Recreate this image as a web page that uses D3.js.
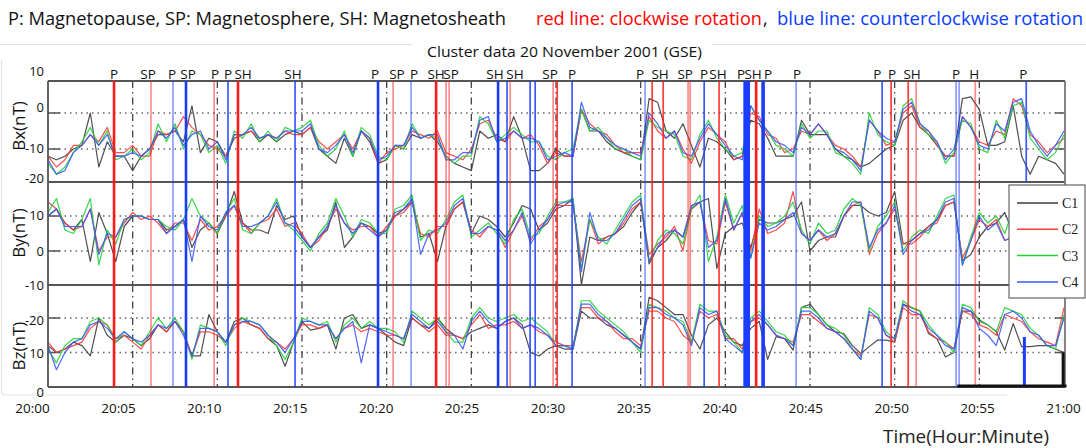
<!DOCTYPE html>
<html><head><meta charset="utf-8">
<script src="https://cdn.jsdelivr.net/npm/d3@7"></script>
<style>
html,body{margin:0;padding:0;background:#fff;}
svg{display:block;font-family:"Open Sans",sans-serif;}
</style></head><body>
<svg id="chart" width="1086" height="448"></svg>
<script>
// ---------------- DATA (minutes after 20:00, one sample every 0.5 min) ----------------
const sampleStep = 0.5;
const seriesNames = ["C1","C2","C3","C4"];

const bxC1 = [-12,-13,-12,-10,-9,0,-15,-8,-12,-12, -16,-12,-10,-6,-6,-5,-8,2,-11,-7, -8,-12,-7,-6,-5,-8,-6,-8,-6,-5, -6,-4,-10,-12,-14,-7,-12,-5,-8,-14, -13,-9,-10,-6,-7,-6,-8,-12,-14,-15, -16,-5,-7,-6,-8,-1,-7,-16,-16,-14, -10,-12,-12,1,-5,-5,-8,-10,-11,-12, -13,4,3,-5,-7,-3,-9,-15,-7,-8, -10,-13,-12,-2,-3,-7,-12,-12,-12,-2, -6,-6,-6,-10,-12,-13,-15,-14,-12,-10, -9,-2,0,-4,-6,-9,-12,-12,4,4.5, 1,-9,-9,-8,2,-12,-17,-12,-13,-14, -17];
const bxC2 = [-12,-15,-13,-9,-9,-6,-8,-4,-11,-11, -9,-12,-12,-5,-6,-5,-1,-4,-6,-9, -10,-12,-6,-6,-5,-7,-6,-7,-5,-6, -6,-4,-8,-10,-8,-6,-10,-5,-7,-14, -11,-10,-9,-5,-6,-7,-5,-11,-12,-13, -10,-3,-2,-7,-8,-5,-7,-6,-9,-14, -11,-12,-12,1,-3,-5,-6,-9,-11,-11, -11,-1,-5,-7,-5,-10,-14,-8,-4,-6, -8,-13,-12,0,-1,-6,-7,-11,-10,-5, -6,-3,-6,-9,-10,-12,-15,-2,-5,-9, -8,0,2,-4,-5,-9,-12,-12,-1,-4, -8,-9,-5,-6,4,2,-6,-8,-11,-9, -7];
const bxC3 = [-14,-17,-15,-11,-8,-4,-9,-5,-13,-12, -10,-13,-11,-3,-8,-3,-10,-5,-6,-11, -9,-14,-5,-7,-3,-8,-5,-8,-4,-5, -4,-2,-9,-12,-10,-5,-12,-4,-6,-12, -13,-9,-10,-3,-7,-6,-7,-12,-14,-12, -12,-1,-3,-8,-6,-4,-6,-8,-8,-12, -13,-11,-10,1,-5,-4,-7,-10,-10,-12, -13,-2,-4,-5,-6,-12,-13,-6,-2,-7, -10,-12,-11,2,-2,-5,-9,-10,-12,-3, -7,-5,-5,-11,-12,-14,-17,0,-6,-8, -9,2,4,-3,-6,-8,-14,-11,-2,-3, -10,-11,-2,-7,2,3,-7,-10,-13,-11, -6];
const bxC4 = [-13,-17,-16,-11,-9,-6,-9,-6,-12,-12, -11,-12,-10,-5,-7,-4,-9,-6,-5,-10, -8,-13,-6,-6,-4,-7,-6,-7,-5,-5, -5,-3,-10,-11,-9,-6,-11,-5,-7,-13, -12,-9,-9,-4,-7,-6,-6,-13,-13,-11, -11,-2,-1,-8,-7,-5,-7,-7,-8,-13, -12,-11,-12,3,-4,-5,-7,-9,-10,-11, -12,0,-3,-7,-5,-11,-12,-7,-3,-6, -9,-12,-13,2,-2,-5,-8,-9,-11,-4, -6,-3,-6,-10,-11,-13,-16,-2,-5,-7, -8,1,3,-3,-5,-8,-13,-10,-1,-4, -9,-10,-3,-5,3,4,-5,-9,-12,-9, -5];

const byC1 = [10,12,8,6,9,-3,11,5,-3,7, 10,10,9,9,6,7,9,1,6,8, 5,10,17,8,6,6,5,13,9,10, 4,1,4,6,14,1,4,8,7,5, 6,10,12,14,4,5,-3,7,12,14, 5,10,9,7,4,8,13,12,6,8, 12,13,15,-9.6,4,3,4,5,7,11, 14,-3.7,1,3,6,4,12,14,15,-5, 5,7,8,1,9,8,8,9,10,14, 0,3,4,4,10,13,13,11,10,11, 17,2,3,5,7,9,13,14,-2.7,-1, 4,7,8,11,5,7,14,6,1,3, 6];
const byC2 = [14,12,8,6,7,12,0,4,4,8, 11,9,10,8,5,8,8,3,9,6, 7,10,13,8,5,8,9,12,7,8, 5,1,3,7,12,8,6,7,7,4, 7,10,11,14,5,4,7,7,12,14, 6,4,7,6,1,6,10,3,7,9, 13,13,13,-3,9,2,4,5,8,12, 14,-1,2,4,7,0,13,14,3,2, 14,6,11,0,12,5,6,8,17,5, 3,6,3,5,10,13,14,-1,5,8, 12,2,2,4,7,8,13,14,-2,3, 9,7,9,3,4,8,11,6,2,4, 7];
const byC3 = [11,15,6,5,9,15,-4,6,2,9, 10,10,9,9,7,6,9,15,10,8, 5,11,15,6,5,8,10,15,8,6, 3,0,5,8,15,10,4,9,8,5, 5,12,13,16,3,6,5,9,14,16, 4,6,8,5,2,9,12,4,5,10, 14,14,15,-5,9,4,2,6,10,14, 16,-3,3,6,5,2,12,16,-3,4, 16,8,13,-2,10,7,8,10,14,6, 2,8,5,6,12,15,13,0,7,10, 14,0,4,6,5,10,15,16,-4,4, 11,8,10,5,12,7,10,5,3,5, 6];
const byC4 = [10,12,7,7,7,12,-1,5,4,9, 10,10,9,9,5,7,9,-3,10,7, 6,11,13,7,7,8,10,14,8,7, 4,1,4,7,13,8,5,8,6,4, 6,11,12,15,-1,5,6,8,13,15, 5,5,7,6,3,6,11,2,6,9, 13,14,14,-6,11,3,3,5,9,13, 15,-3,1,5,6,4,13,14,1,3, 15,6,11,-2,8,6,7,9,11,5, 3,6,4,5,10,14,14,1,6,8, 13,-1,3,5,6,9,14,15,-4,3, 10,6,8,3,4,8,11,6,2,4, 7];

const bzC1 = [12,10,11,13,12,9,20,15,13,15, 14,12,14,18,16,19,16,9,9,21, 16,13,19,20,18,17,14,12,6,13, 19,16.5,17,18,11,20,21,17,18,17, 15,13,12,20,18,17,20,17,15,14, 16,17,18,17,19,20,18,10,9,11, 12,11,11,22,20,20,18,17,15,13, 11,26,25,23,21,21,15,11,18,20, 16,13,12,17,19,8,14.6,14,10.7,23, 24,21,18,16,15.5,12,9.7,11.7,13.6,13.6, 13,24,23,22,15.5,14,8.7,10,22,22, 19.4,18,16,10.7,18.4,11.7,11.7,12,12,11, 10];
const bzC2 = [13,10,11,12,13,17,19,18,14,15, 13,11,15,18,16,19,16,9,16,16, 15,13,17,19,18,17,14,13,11,14, 18,18,17,18,14,17,18,16,17,16, 15,15,14,20,18,16,18,15,15,14, 18,21,17,18,18,19,17,18,16,15, 13,12,12,23,23,20,19,16,14,14, 12,22,22,20,19,15,13,22,20,21, 14,14,11,19,20,18,15,14,13,21, 21,19,17,16,14,11,9,21,20,15, 13,23,21,21,16,14,13,11,22,21, 18,17,15,21,20,19,16,14,13,12, 23];
const bzC3 = [11,7,12,14,14,19,20,18,13,16, 14,12,16,20,17,20,16,8,18,17, 16,12,18,20,19,18,15,12,8,13, 20,19,18,19,13,18,20,17,19,17, 17,16,13,22,20,18,20,16,13,13, 20,23,20,19,20,21,19,20,18,16, 12,12,11,25,25,22,20,18,16,13, 10,24,23,22,20,19,13,24,22,22, 15,13,10,20,22,19,16,15,12,23, 23,21,18,17,15,11,8,23,21,16, 14,25,23,22,18,15,13,10,24,23, 19,18,16,23,22,21,17,15,12,11, 21];
const bzC4 = [12,5,10,13,14,18,19,17,14,16, 14,13,15,18,17,19,15,9,17,17, 16,13,18,19,19,18,15,13,10,14, 19,19,18,18,14,17,19,7,18,17, 16,15,14,21,19,17,19,16,15,11, 19,22,19,17,19,20,17,18,17,15, 12,12,11,24,24,21,19,17,15,13, 11,23,23,21,20,18,12,23,21,22, 14,12,10,19,21,18,15,14,12,22, 22,20,17,16,14,11,8,22,20,15, 14,24,22,21,17,15,12,11,23,22, 17,15,12,21,22,20,16,15,12,12, 20];

const timeTickLabels = ["20:00","20:05","20:10","20:15","20:20","20:25","20:30","20:35","20:40","20:45","20:50","20:55","21:00"];
const timeTickValues = [0,5,10,15,20,25,30,35,40,45,50,55,60];
const bxTickLabels = ["10","0","-10","-20"];
const byTickLabels = ["10","0","-10"];
const bzTickLabels = ["-20","10","0"];

// rotation events: minute, sense (cw = red, ccw = blue), emphasis level, panels
const eventTimes = [3.90,6.08,7.38,8.15,9.81,10.63,11.22,14.59,19.49,20.38,21.44,22.92,23.51,23.69,26.58,27.11,27.29,28.47,28.77,29.83,30.07,30.95,35.26,35.68,36.33,37.80,37.92,38.75,39.63,41.17,41.35,41.82,42.23,44.18,49.26,49.79,50.80,51.27,53.63,53.81,54.76,57.77];
const eventRotation = ["cw","cw","ccw","ccw","cw","ccw","cw","ccw","ccw","cw","ccw","cw","cw","cw","ccw","ccw","cw","ccw","ccw","cw","cw","ccw","ccw","cw","cw","cw","cw","ccw","cw","ccw","ccw","cw","ccw","ccw","ccw","cw","cw","cw","ccw","ccw","cw","ccw"];
const eventWeight = [3,1,1,3,1,2,3,2,3,1,1,3,1,1,3,2,1,2,2,1,2,2,1,2,2,1,1,2,2,4,4,3,4,1,2,2,2,1,1,1,1,2];
const eventSpan = ["all","all","all","all","all","all","all","all","all","all","all","all","all","all","all","all","all","all","all","all","all","all","all","all","all","all","all","all","all","all","all","all","all","all","all","all","all","all","all","all","all","Bx"];

const regionLabels = ["P","SP","P","SP","P","P","SH","SH","P","SP","P","SH","SP","SH","SH","SP","P","P","SH","SP","P","SH","P","SH","P","P","P","P","SH","P","H","P"];
const regionLabelTimes = [3.90,5.91,7.32,8.27,9.86,10.63,11.52,14.47,19.31,20.61,21.62,22.92,23.80,26.40,27.58,29.65,30.95,34.97,36.15,37.63,38.75,39.57,40.93,41.64,42.53,44.24,48.97,49.85,51.03,53.63,54.70,57.59];

// marks drawn on the Bz panel near the end
const bzMarkerTime = 57.66, bzMarkerTop = 14.5;
const bzBracketStart = 53.7, bzBracketEnd = 60.15, bzBracketTop = 10;

// ---------------- DRAWING ----------------
const svg = d3.select("#chart");
const seriesColors = ["#3c3c3c","#ff3a3a","#22d238","#3a58ff"];
const x = d3.scaleLinear().domain([0,60]).range([48,1064]);
const xLab = d3.scaleLinear().domain([0,60]).range([32,1063]);
const L = 48, R = 1065;

const panels = [
  {key:"Bx", title:"Bx(nT)", data:[bxC1,bxC2,bxC3,bxC4], y:d3.scaleLinear().domain([-10,0]).range([149,113]), top:81, bottom:182, grid:[0,-10],
   tickPos:d3.scaleLinear().domain([10,0,-10,-20]).range([71,107,148,178]), tickVals:[10,0,-10,-20], tickText:bxTickLabels, titleY:126},
  {key:"By", title:"By(nT)", data:[byC1,byC2,byC3,byC4], y:d3.scaleLinear().domain([0,10]).range([251,216]), top:182, bottom:285, grid:[10,0],
   tickPos:d3.scaleLinear().domain([10,0,-10]).range([215,251,285]), tickVals:[10,0,-10], tickText:byTickLabels, titleY:233},
  {key:"Bz", title:"Bz(nT)", data:[bzC1,bzC2,bzC3,bzC4], y:d3.scaleLinear().domain([0,10]).range([387,352.5]), top:285, bottom:387, grid:[20,10],
   tickPos:d3.scaleLinear().domain([20,10,0]).range([320,353,392]), tickVals:[20,10,0], tickText:bzTickLabels, titleY:346}
];

// faint outer frame
const faint = svg.append("g").attr("stroke","#e3e3e3").attr("stroke-width",1.2).attr("fill","none");
faint.append("line").attr("x1",0).attr("x2",412).attr("y1",44.5).attr("y2",44.5);
faint.append("line").attr("x1",712).attr("x2",1086).attr("y1",44.5).attr("y2",44.5);
faint.append("path").attr("d","M1.5,60 V392 Q1.5,395 5,395 H1007");

const defs = svg.append("defs");
const gridMinutes = [5,10,15,20,25,30,35,40,45,50,55];

panels.forEach((p,pi)=>{
  const g = svg.append("g");
  defs.append("clipPath").attr("id","clip"+pi).append("rect")
    .attr("x",L).attr("y",p.top).attr("width",R-L).attr("height",p.bottom-p.top);
  g.selectAll(".hg").data(p.grid).enter().append("line")
    .attr("x1",L).attr("x2",R).attr("y1",d=>p.y(d)).attr("y2",d=>p.y(d))
    .attr("stroke","#666").attr("stroke-width",1.3).attr("stroke-dasharray","1.5,4");
  g.selectAll(".tl").data(p.grid).enter().append("line")
    .attr("x1",L).attr("x2",L+12).attr("y1",d=>p.y(d)).attr("y2",d=>p.y(d))
    .attr("stroke","#555").attr("stroke-width",1.5);
  g.selectAll(".tr").data(p.grid).enter().append("line")
    .attr("x1",R-10).attr("x2",R).attr("y1",d=>p.y(d)).attr("y2",d=>p.y(d))
    .attr("stroke","#555").attr("stroke-width",1.5);
  g.selectAll(".vg").data(gridMinutes).enter().append("line")
    .attr("x1",d=>x(d)).attr("x2",d=>x(d)).attr("y1",p.top).attr("y2",p.bottom)
    .attr("stroke","#444").attr("stroke-width",1.3).attr("stroke-dasharray","7,4,1.5,4");
  const line = d3.line().x((d,i)=>x(i*sampleStep)).y(d=>p.y(d));
  const tg = g.append("g").attr("clip-path","url(#clip"+pi+")");
  p.data.forEach((s,si)=>{
    tg.append("path").datum(s).attr("d",line).attr("fill","none")
      .attr("stroke",seriesColors[si]).attr("stroke-width",1.2).attr("stroke-opacity",0.9)
      .attr("stroke-linejoin","round");
  });
  const ax = d3.axisLeft(p.tickPos).tickValues(p.tickVals).tickFormat((d,i)=>p.tickText[i]).tickSize(0).tickPadding(2);
  const axg = svg.append("g").attr("transform","translate(46,0)").call(ax);
  axg.select(".domain").remove();
  axg.selectAll("text").attr("font-family","Open Sans").attr("font-size",13).attr("fill","#111");
  svg.append("text").attr("transform",`translate(25,${p.titleY}) rotate(-90)`)
    .attr("text-anchor","middle").attr("font-size",17).attr("fill","#111").text(p.title);
});

// frames
const fr = svg.append("g").attr("stroke","#555").attr("stroke-width",1.8);
[81,182,285,387].forEach(v=>fr.append("line").attr("x1",L).attr("x2",R).attr("y1",v).attr("y2",v));
fr.append("line").attr("x1",L).attr("x2",L).attr("y1",81).attr("y2",387);
fr.append("line").attr("x1",R).attr("x2",R).attr("y1",81).attr("y2",387).attr("stroke","#777");

// rotation event lines
const weightWidth = {1:1.7, 2:1.7, 3:2.6, 4:3.6};
const weightOpacity = {1:0.5, 2:0.85, 3:1, 4:1};
const evColor = {cw:"#ff1a1a", ccw:"#1a3cff"};
const evG = svg.append("g");
eventTimes.forEach((t,i)=>{
  const y2 = eventSpan[i]==="Bx" ? 182 : 387;
  evG.append("line").attr("x1",x(t)).attr("x2",x(t)).attr("y1",81).attr("y2",y2)
    .attr("stroke",evColor[eventRotation[i]]).attr("stroke-width",weightWidth[eventWeight[i]])
    .attr("stroke-opacity",weightOpacity[eventWeight[i]]);
});

// region labels
svg.append("g").selectAll("text").data(regionLabels).enter().append("text")
  .attr("x",(d,i)=>x(regionLabelTimes[i])).attr("y",79).attr("text-anchor","middle")
  .attr("font-size",13.5).attr("fill","#111").text(d=>d);

// Bz end marks
const bz = panels[2].y;
svg.append("line").attr("x1",x(bzMarkerTime)).attr("x2",x(bzMarkerTime)).attr("y1",bz(bzMarkerTop)).attr("y2",bz(0)-1)
  .attr("stroke","#1a3cff").attr("stroke-width",3);
svg.append("line").attr("x1",x(bzBracketStart)).attr("x2",x(bzBracketEnd)).attr("y1",bz(0)-1).attr("y2",bz(0)-1)
  .attr("stroke","#111").attr("stroke-width",3);
svg.append("line").attr("x1",x(59.95)).attr("x2",x(59.95)).attr("y1",bz(bzBracketTop)).attr("y2",bz(0)-1)
  .attr("stroke","#111").attr("stroke-width",3);

// legend
const lg = svg.append("g").attr("transform","translate(1009,185)");
lg.append("rect").attr("width",76).attr("height",113).attr("fill","#fff").attr("stroke","#666").attr("stroke-width",1.2);
seriesNames.forEach((n,i)=>{
  const yy = 18 + i*26.3;
  lg.append("line").attr("x1",8).attr("x2",49).attr("y1",yy).attr("y2",yy).attr("stroke",seriesColors[i]).attr("stroke-width",1.5);
  lg.append("text").attr("x",53).attr("y",yy+5).attr("font-family","Liberation Serif, serif").attr("font-size",14).attr("fill","#222").text(n);
});

// x axis labels
const xa = d3.axisBottom(xLab).tickValues(timeTickValues).tickFormat((d,i)=>timeTickLabels[i]).tickSize(0).tickPadding(3);
const xag = svg.append("g").attr("transform","translate(0,400)").call(xa);
xag.select(".domain").remove();
xag.selectAll("text").attr("font-family","Open Sans").attr("font-size",13.5).attr("fill","#111");

svg.append("text").attr("x",883).attr("y",443).attr("font-size",18).attr("fill","#222")
  .attr("textLength",166).attr("lengthAdjust","spacingAndGlyphs").text("Time(Hour:Minute)");

// header texts
svg.append("text").attr("x",8).attr("y",25).attr("font-size",18).attr("fill","#111")
  .attr("textLength",498).attr("lengthAdjust","spacingAndGlyphs").text("P: Magnetopause, SP: Magnetosphere, SH: Magnetosheath");
svg.append("text").attr("x",536).attr("y",25).attr("font-size",18).attr("fill","#ff0000")
  .attr("textLength",226).attr("lengthAdjust","spacingAndGlyphs").text("red line: clockwise rotation");
svg.append("text").attr("x",763).attr("y",25).attr("font-size",18).attr("fill","#111").text(",");
svg.append("text").attr("x",777).attr("y",25).attr("font-size",18).attr("fill","#0a3cff")
  .attr("textLength",306).attr("lengthAdjust","spacingAndGlyphs").text("blue line: counterclockwise rotation");
svg.append("text").attr("x",427).attr("y",57).attr("font-size",15).attr("fill","#111")
  .attr("textLength",275).attr("lengthAdjust","spacingAndGlyphs").text("Cluster data 20 November 2001 (GSE)");
</script>
</body></html>
